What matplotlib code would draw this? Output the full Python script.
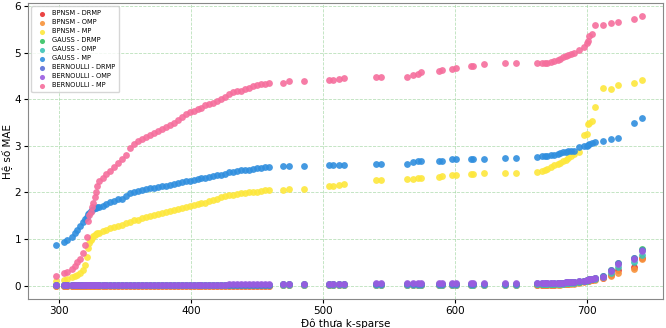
import matplotlib
matplotlib.use("Agg")
import matplotlib.pyplot as plt

# sparsity levels (shared by all series)
k_vals = [
    298, 304, 306, 310, 312, 314, 316, 318, 320, 321, 322, 323, 324, 325, 326, 327, 328, 329, 330,
    333, 336, 339, 342, 345, 348, 351, 354, 357, 360, 363, 366, 369, 372, 375, 378,
    381, 384, 387, 390, 393, 396, 399, 402, 405, 408, 411, 414, 417, 420, 423, 426,
    429, 432, 435, 438, 441, 444, 447, 450, 453, 456, 459,
    470, 474, 486, 505, 508, 512, 516, 540, 544, 564, 568, 572, 574, 588, 590, 598,
    601, 612, 614, 622, 638, 646,
    662, 666, 668, 670, 673, 675, 678, 680, 682, 684, 686, 688, 690, 694, 698, 700,
    701, 702, 704, 706, 712, 718, 724, 736, 742,
]

bpnsm_drmp = [
    0.00, 0.00, 0.00, 0.00, 0.00, 0.00, 0.00, 0.00, 0.00, 0.00, 0.00, 0.00, 0.00, 0.00, 0.00, 0.00, 0.00, 0.00, 0.00,
    0.00, 0.00, 0.00, 0.00, 0.00, 0.00, 0.00, 0.00, 0.00, 0.00, 0.00, 0.00, 0.00, 0.00, 0.00, 0.00,
    0.00, 0.00, 0.00, 0.00, 0.00, 0.00, 0.00, 0.00, 0.00, 0.00, 0.00, 0.00, 0.00, 0.00, 0.00, 0.00,
    0.00, 0.00, 0.00, 0.00, 0.00, 0.00, 0.00, 0.00, 0.00, 0.00, 0.00,
    0.01, 0.01, 0.01, 0.01, 0.01, 0.01, 0.01, 0.01, 0.01, 0.01, 0.01, 0.01, 0.01, 0.01, 0.01, 0.01,
    0.01, 0.01, 0.01, 0.01, 0.01, 0.01,
    0.02, 0.02, 0.02, 0.02, 0.02, 0.02, 0.03, 0.03, 0.03, 0.04, 0.04, 0.05, 0.05, 0.07, 0.09, 0.10,
    0.11, 0.12, 0.13, 0.14, 0.17, 0.23, 0.33, 0.40, 0.60,
]
bpnsm_omp = [
    0.00, 0.00, 0.00, 0.00, 0.00, 0.00, 0.00, 0.00, 0.00, 0.00, 0.00, 0.00, 0.00, 0.00, 0.00, 0.00, 0.00, 0.00, 0.00,
    0.00, 0.00, 0.00, 0.00, 0.00, 0.00, 0.00, 0.00, 0.00, 0.00, 0.00, 0.00, 0.00, 0.00, 0.00, 0.00,
    0.00, 0.00, 0.00, 0.00, 0.00, 0.00, 0.00, 0.00, 0.00, 0.00, 0.00, 0.00, 0.00, 0.00, 0.00, 0.00,
    0.00, 0.00, 0.00, 0.00, 0.00, 0.00, 0.00, 0.00, 0.00, 0.00, 0.00,
    0.01, 0.01, 0.01, 0.01, 0.01, 0.01, 0.01, 0.01, 0.01, 0.01, 0.01, 0.01, 0.01, 0.01, 0.01, 0.01,
    0.01, 0.01, 0.01, 0.01, 0.01, 0.01,
    0.01, 0.01, 0.01, 0.01, 0.02, 0.02, 0.02, 0.02, 0.03, 0.03, 0.03, 0.04, 0.04, 0.06, 0.08, 0.09,
    0.10, 0.11, 0.12, 0.13, 0.16, 0.21, 0.28, 0.36, 0.57,
]
bpnsm_mp = [
    0.11, 0.13, 0.14, 0.18, 0.20, 0.23, 0.27, 0.33, 0.45, 0.62, 0.80, 0.92, 0.98, 1.02, 1.06, 1.08, 1.10, 1.12, 1.13,
    1.17, 1.20, 1.23, 1.26, 1.28, 1.31, 1.34, 1.37, 1.40, 1.42, 1.45, 1.47, 1.50, 1.52, 1.54, 1.56,
    1.58, 1.60, 1.62, 1.64, 1.66, 1.69, 1.71, 1.73, 1.75, 1.77, 1.78, 1.81, 1.84, 1.87, 1.90, 1.92,
    1.94, 1.95, 1.97, 1.98, 1.99, 2.00, 2.01, 2.02, 2.04, 2.05, 2.06,
    2.06, 2.08, 2.08, 2.13, 2.15, 2.17, 2.18, 2.27, 2.27, 2.28, 2.28, 2.31, 2.31, 2.33, 2.36, 2.38,
    2.38, 2.39, 2.39, 2.41, 2.41, 2.42,
    2.44, 2.46, 2.48, 2.50, 2.55, 2.58, 2.62, 2.64, 2.67, 2.70, 2.74, 2.78, 2.83, 2.88, 3.23, 3.25,
    3.46, 3.50, 3.54, 3.83, 4.24, 4.23, 4.30, 4.35, 4.42,
]
gauss_drmp = [
    0.01, 0.01, 0.01, 0.01, 0.01, 0.01, 0.01, 0.01, 0.01, 0.01, 0.01, 0.01, 0.01, 0.01, 0.01, 0.01, 0.01, 0.01, 0.01,
    0.01, 0.01, 0.01, 0.01, 0.01, 0.01, 0.01, 0.01, 0.01, 0.01, 0.01, 0.01, 0.01, 0.01, 0.01, 0.01,
    0.01, 0.01, 0.01, 0.01, 0.01, 0.01, 0.01, 0.01, 0.02, 0.02, 0.02, 0.02, 0.02, 0.02, 0.02, 0.02,
    0.02, 0.02, 0.02, 0.02, 0.02, 0.02, 0.02, 0.02, 0.02, 0.02, 0.02,
    0.03, 0.03, 0.03, 0.03, 0.03, 0.03, 0.03, 0.03, 0.03, 0.03, 0.03, 0.03, 0.03, 0.03, 0.03, 0.03,
    0.03, 0.03, 0.03, 0.03, 0.03, 0.03,
    0.04, 0.04, 0.04, 0.04, 0.04, 0.04, 0.05, 0.05, 0.05, 0.06, 0.06, 0.07, 0.07, 0.08, 0.10, 0.12,
    0.13, 0.14, 0.15, 0.16, 0.20, 0.34, 0.48, 0.60, 0.79,
]
gauss_omp = [
    0.01, 0.01, 0.01, 0.01, 0.01, 0.01, 0.01, 0.01, 0.01, 0.01, 0.01, 0.01, 0.01, 0.01, 0.01, 0.01, 0.01, 0.01, 0.01,
    0.01, 0.01, 0.01, 0.01, 0.01, 0.01, 0.01, 0.01, 0.01, 0.01, 0.01, 0.01, 0.01, 0.01, 0.01, 0.01,
    0.01, 0.01, 0.01, 0.01, 0.01, 0.01, 0.01, 0.01, 0.01, 0.01, 0.01, 0.01, 0.01, 0.01, 0.01, 0.01,
    0.01, 0.01, 0.01, 0.01, 0.01, 0.01, 0.01, 0.01, 0.01, 0.01, 0.01,
    0.02, 0.02, 0.02, 0.02, 0.02, 0.02, 0.02, 0.02, 0.02, 0.02, 0.02, 0.02, 0.02, 0.02, 0.02, 0.02,
    0.02, 0.02, 0.02, 0.02, 0.02, 0.02,
    0.03, 0.03, 0.03, 0.03, 0.03, 0.03, 0.04, 0.04, 0.04, 0.05, 0.05, 0.06, 0.06, 0.08, 0.10, 0.11,
    0.12, 0.13, 0.14, 0.15, 0.18, 0.28, 0.40, 0.50, 0.66,
]
gauss_mp = [
    0.87, 0.93, 0.97, 1.05, 1.12, 1.20, 1.29, 1.36, 1.44, 1.48, 1.53, 1.57, 1.60, 1.62, 1.64, 1.66, 1.67, 1.68, 1.69,
    1.72, 1.75, 1.79, 1.82, 1.85, 1.87, 1.92, 1.98, 2.01, 2.03, 2.05, 2.07, 2.09, 2.10, 2.12, 2.13,
    2.15, 2.16, 2.18, 2.20, 2.22, 2.24, 2.25, 2.27, 2.29, 2.31, 2.32, 2.34, 2.36, 2.37, 2.38, 2.40,
    2.43, 2.45, 2.47, 2.48, 2.48, 2.49, 2.50, 2.52, 2.53, 2.54, 2.55,
    2.57, 2.57, 2.57, 2.59, 2.59, 2.59, 2.59, 2.61, 2.61, 2.61, 2.66, 2.68, 2.68, 2.68, 2.68, 2.71,
    2.71, 2.72, 2.72, 2.72, 2.73, 2.74,
    2.76, 2.78, 2.78, 2.79, 2.80, 2.80, 2.82, 2.84, 2.86, 2.88, 2.89, 2.90, 2.90, 2.97, 2.99, 3.00,
    3.03, 3.05, 3.07, 3.08, 3.10, 3.15, 3.18, 3.50, 3.61,
]
bernoulli_drmp = [
    0.01, 0.01, 0.01, 0.01, 0.01, 0.01, 0.01, 0.01, 0.01, 0.01, 0.01, 0.01, 0.01, 0.01, 0.01, 0.01, 0.01, 0.01, 0.01,
    0.01, 0.01, 0.01, 0.01, 0.01, 0.01, 0.01, 0.01, 0.01, 0.01, 0.01, 0.01, 0.01, 0.01, 0.01, 0.01,
    0.01, 0.01, 0.01, 0.01, 0.01, 0.01, 0.02, 0.02, 0.02, 0.02, 0.02, 0.02, 0.02, 0.02, 0.02, 0.02,
    0.02, 0.02, 0.02, 0.02, 0.02, 0.02, 0.02, 0.02, 0.02, 0.02, 0.02,
    0.04, 0.04, 0.04, 0.04, 0.04, 0.04, 0.04, 0.04, 0.04, 0.04, 0.04, 0.04, 0.04, 0.04, 0.04, 0.04,
    0.04, 0.04, 0.04, 0.04, 0.04, 0.04,
    0.05, 0.05, 0.05, 0.05, 0.05, 0.05, 0.06, 0.06, 0.06, 0.07, 0.07, 0.08, 0.08, 0.09, 0.10, 0.12,
    0.13, 0.14, 0.15, 0.16, 0.20, 0.33, 0.49, 0.60, 0.77,
]
bernoulli_omp = [
    0.01, 0.01, 0.01, 0.01, 0.01, 0.01, 0.01, 0.01, 0.01, 0.01, 0.01, 0.01, 0.01, 0.01, 0.01, 0.01, 0.01, 0.01, 0.01,
    0.01, 0.01, 0.01, 0.01, 0.01, 0.01, 0.01, 0.01, 0.01, 0.02, 0.02, 0.02, 0.02, 0.02, 0.02, 0.02,
    0.02, 0.02, 0.02, 0.02, 0.02, 0.02, 0.02, 0.02, 0.02, 0.02, 0.02, 0.02, 0.02, 0.02, 0.02, 0.02,
    0.03, 0.03, 0.03, 0.03, 0.03, 0.03, 0.03, 0.03, 0.03, 0.03, 0.03,
    0.04, 0.04, 0.04, 0.04, 0.04, 0.04, 0.04, 0.05, 0.05, 0.05, 0.05, 0.05, 0.05, 0.05, 0.05, 0.05,
    0.05, 0.05, 0.05, 0.05, 0.05, 0.05,
    0.05, 0.05, 0.05, 0.05, 0.05, 0.05, 0.06, 0.06, 0.06, 0.07, 0.07, 0.08, 0.08, 0.09, 0.11, 0.12,
    0.13, 0.14, 0.15, 0.16, 0.19, 0.31, 0.47, 0.57, 0.74,
]
bernoulli_mp = [
    0.21, 0.28, 0.30, 0.36, 0.42, 0.50, 0.58, 0.70, 0.87, 1.05, 1.38, 1.52, 1.59, 1.68, 1.78, 1.91, 2.02, 2.15, 2.24,
    2.32, 2.39, 2.46, 2.54, 2.63, 2.71, 2.80, 2.95, 3.04, 3.10, 3.15, 3.19, 3.24, 3.28, 3.33, 3.37,
    3.41, 3.45, 3.49, 3.56, 3.63, 3.68, 3.73, 3.76, 3.79, 3.82, 3.87, 3.90, 3.92, 3.96, 4.00, 4.06,
    4.12, 4.15, 4.17, 4.19, 4.22, 4.25, 4.28, 4.31, 4.33, 4.34, 4.36,
    4.36, 4.40, 4.40, 4.41, 4.41, 4.43, 4.46, 4.48, 4.48, 4.48, 4.53, 4.54, 4.59, 4.61, 4.64, 4.65,
    4.68, 4.71, 4.72, 4.76, 4.77, 4.78,
    4.78, 4.78, 4.79, 4.79, 4.81, 4.82, 4.84, 4.87, 4.91, 4.94, 4.96, 4.98, 5.00, 5.07, 5.12, 5.20,
    5.25, 5.37, 5.41, 5.59, 5.60, 5.64, 5.67, 5.72, 5.78,
]

series = [
    ("BPNSM - DRMP", bpnsm_drmp, "#e8302f"),
    ("BPNSM - OMP", bpnsm_omp, "#f7923a"),
    ("BPNSM - MP", bpnsm_mp, "#fde73c"),
    ("GAUSS - DRMP", gauss_drmp, "#35c263"),
    ("GAUSS - OMP", gauss_omp, "#3cc3b5"),
    ("GAUSS - MP", gauss_mp, "#2f8ede"),
    ("BERNOULLI - DRMP", bernoulli_drmp, "#5a6fd8"),
    ("BERNOULLI - OMP", bernoulli_omp, "#9a5ce0"),
    ("BERNOULLI - MP", bernoulli_mp, "#f56e9c"),
]

fig, ax = plt.subplots(figsize=(6.66, 3.28), dpi=100)
fig.subplots_adjust(left=0.042, right=0.996, top=0.991, bottom=0.088)

for name, vals, color in series:
    ax.scatter(k_vals, vals, s=24, color=color, alpha=0.9, linewidths=0, label=name)

ax.set_xlim(276.5, 758)
ax.set_ylim(-0.29, 6.07)
ax.set_xticks([300, 400, 500, 600, 700])
ax.set_yticks([0, 1, 2, 3, 4, 5, 6])
ax.tick_params(labelsize=7.5, length=3, pad=2)
ax.grid(True, color="#8ccc8c", linestyle="--", linewidth=0.6, alpha=0.6)
ax.set_axisbelow(True)
for sp in ax.spines.values():
    sp.set_color("#888888")
ax.set_xlabel("Độ thưa k-sparse", fontsize=7.5, labelpad=2)
ax.set_ylabel("Hệ số MAE", fontsize=7.5, labelpad=2)
ax.legend(loc="upper left", fontsize=4.8, markerscale=0.75, handletextpad=0.5,
          labelspacing=0.45, borderpad=0.6, framealpha=0.8)

fig.savefig("out.png", dpi=100)
